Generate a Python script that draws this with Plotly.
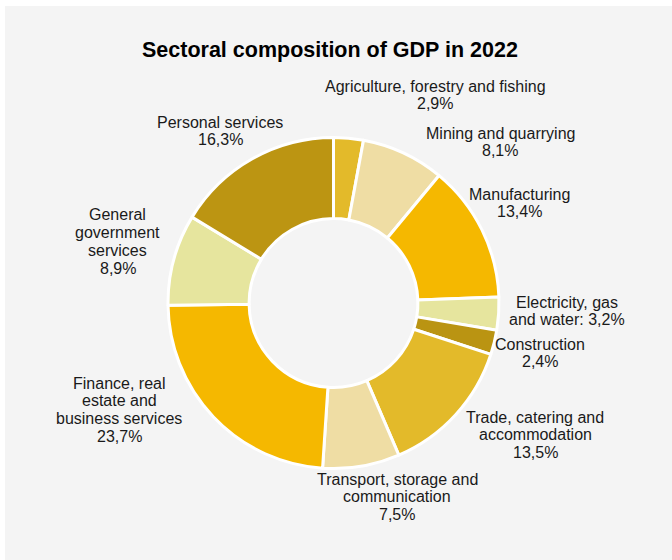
import plotly.graph_objects as go

sectors = [
    "Agriculture, forestry and fishing",
    "Mining and quarrying",
    "Manufacturing",
    "Electricity, gas and water",
    "Construction",
    "Trade, catering and accommodation",
    "Transport, storage and communication",
    "Finance, real estate and business services",
    "General government services",
    "Personal services",
]
shares = [2.9, 8.1, 13.4, 3.2, 2.4, 13.5, 7.5, 23.7, 8.9, 16.3]
label_lines = [
    ["Agriculture, forestry and fishing", "2,9%"],
    ["Mining and quarrying", "8,1%"],
    ["Manufacturing", "13,4%"],
    ["Electricity, gas", "and water: 3,2%"],
    ["Construction", "2,4%"],
    ["Trade, catering and", "accommodation", "13,5%"],
    ["Transport, storage and", "communication", "7,5%"],
    ["Finance, real", "estate and", "business services", "23,7%"],
    ["General", "government", "services", "8,9%"],
    ["Personal services", "16,3%"],
]
colors = ["#E3BA2A", "#EFDDA4", "#F5B800", "#E6E59E", "#BA9412",
          "#E3BA2A", "#EFDDA4", "#F5B800", "#E6E59E", "#BC9512"]

W, H = 672, 560
# label block centre x and first-line y, in pixels
label_pos = [(435, 86), (500, 133), (519, 194), (567, 302), (540, 344),
             (535, 417), (397, 479), (119, 383), (118, 215), (220, 122)]
LINE = 17.7

cx, cy, r = 333.5, 303, 165.5

fig = go.Figure(go.Pie(
    labels=sectors,
    values=shares,
    sort=False,
    direction="clockwise",
    rotation=0,
    hole=0.51,
    textinfo="none",
    marker=dict(colors=colors, line=dict(color="white", width=3)),
    domain=dict(x=[(cx - r) / W, (cx + r) / W],
                y=[(H - cy - r) / H, (H - cy + r) / H]),
    showlegend=False,
))

fig.add_shape(type="rect", xref="paper", yref="paper",
              x0=5 / W, x1=1, y0=0, y1=1 - 6 / H,
              fillcolor="#F4F4F4", line=dict(width=0), layer="below")

FONT = "Liberation Sans, Arial, sans-serif"
for lines, (x, y) in zip(label_lines, label_pos):
    for i, ln in enumerate(lines):
        fig.add_annotation(text=ln, x=x / W, y=1 - (y + i * LINE) / H,
                           xref="paper", yref="paper",
                           showarrow=False, xanchor="center", yanchor="middle",
                           font=dict(family=FONT, size=16, color="#1a1a1a"))

fig.add_annotation(text="<b>Sectoral composition of GDP in 2022</b>",
                   x=330 / W, y=1 - 50 / H, xref="paper", yref="paper",
                   showarrow=False, xanchor="center", yanchor="middle",
                   font=dict(family=FONT, size=21.5, color="#000000"))

fig.update_layout(width=W, height=H, margin=dict(l=0, r=0, t=0, b=0),
                  paper_bgcolor="white", plot_bgcolor="white")

fig.write_html("out.html", config={"displayModeBar": False},
               post_script="document.body.style.margin='0';document.body.style.overflow='hidden';")
